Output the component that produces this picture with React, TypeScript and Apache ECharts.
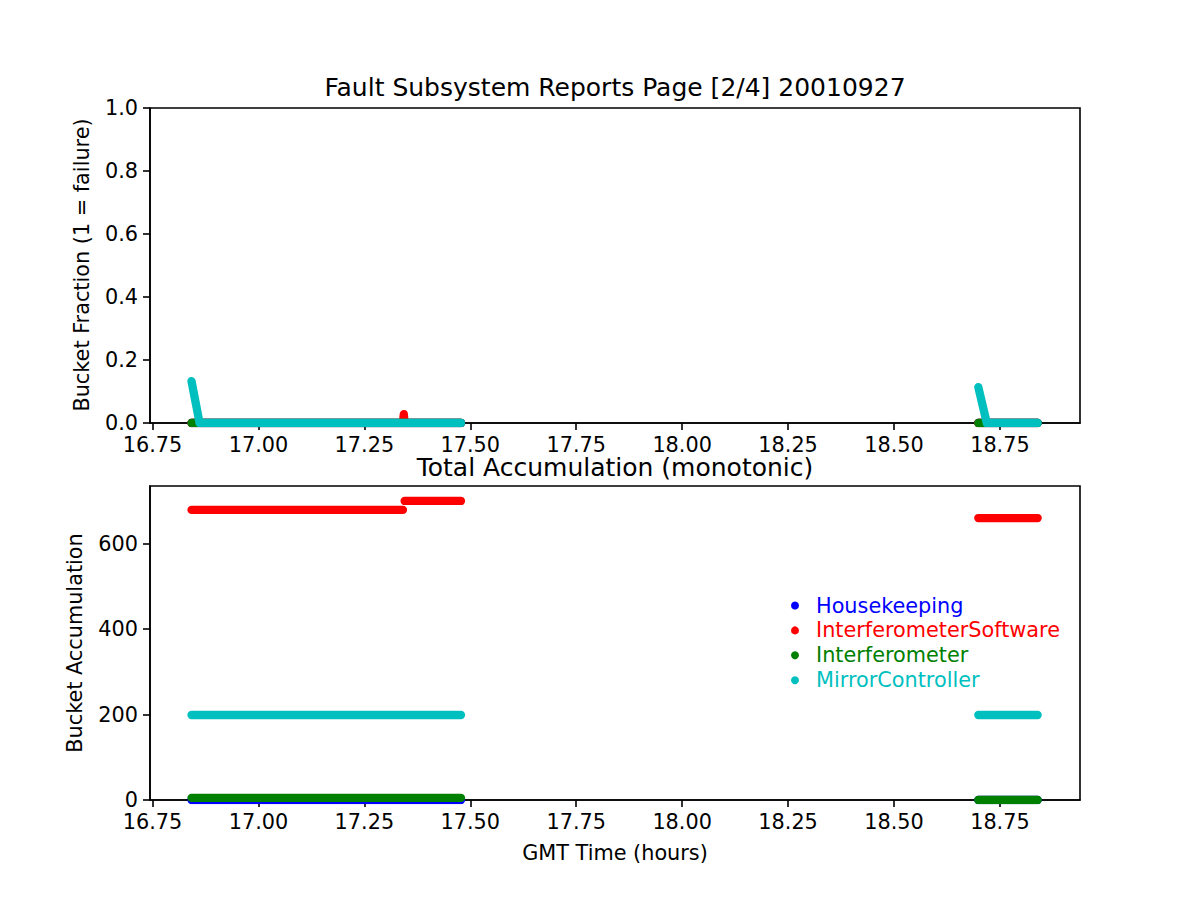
import React, { useEffect, useRef } from "react";
import * as echarts from "echarts";

// ---- data ----
const SERIES_NAMES = ["Housekeeping", "InterferometerSoftware", "Interferometer", "MirrorController"];
const SERIES_COLORS = ["#0000ff", "#ff0000", "#008000", "#00bfbf"];

const X_TICKS = [16.75, 17.0, 17.25, 17.5, 17.75, 18.0, 18.25, 18.5, 18.75];
const FRAC_TICKS = [0, 0.2, 0.4, 0.6, 0.8, 1.0];
const ACC_TICKS = [0, 200, 400, 600];

// Top panel: bucket fraction, each series given as runs of [hour, value]
const fracHousekeeping = [
  [[16.842, 0], [17.478, 0]],
  [[18.699, 0], [18.839, 0]],
];
const fracInterferometerSoftware = [
  [[16.842, 0], [17.341, 0], [17.343, 0.028], [17.345, 0], [17.478, 0]],
  [[18.699, 0], [18.839, 0]],
];
const fracInterferometer = [
  [[16.842, 0], [17.478, 0]],
  [[18.699, 0], [18.839, 0]],
];
const fracMirrorController = [
  [[16.842, 0.133], [16.861, 0], [17.478, 0]],
  [[18.699, 0.114], [18.719, 0], [18.839, 0]],
];

// Bottom panel: total accumulation
const accHousekeeping = [
  [[16.842, 0], [17.478, 0]],
  [[18.699, 0], [18.839, 0]],
];
const accInterferometerSoftware = [
  [[16.842, 679], [17.341, 679]],
  [[17.345, 700], [17.478, 700]],
  [[18.699, 660], [18.839, 660]],
];
const accInterferometer = [
  [[16.842, 5], [17.478, 5]],
  [[18.699, 0], [18.839, 0]],
];
const accMirrorController = [
  [[16.842, 199], [17.478, 199]],
  [[18.699, 199], [18.839, 199]],
];

const FRAC_DATA = [fracHousekeeping, fracInterferometerSoftware, fracInterferometer, fracMirrorController];
const ACC_DATA = [accHousekeeping, accInterferometerSoftware, accInterferometer, accMirrorController];

const X_MIN = 16.744;
const X_MAX = 18.939;
const FONT = "DejaVu Sans";
const FS = 20.8;

function xAxisCfg(gridIndex: number) {
  return {
    type: "value",
    gridIndex,
    min: X_MIN,
    max: X_MAX,
    axisLine: { show: true, onZero: false, lineStyle: { color: "#000", width: 1.6 } },
    axisTick: { show: true, length: 7, lineStyle: { color: "#000", width: 1.6 }, customValues: X_TICKS },
    axisLabel: {
      customValues: X_TICKS,
      formatter: (v: number) => v.toFixed(2),
      color: "#000",
      fontSize: FS,
      fontFamily: FONT,
      lineHeight: 18,
      margin: 13,
    },
    splitLine: { show: false },
  };
}

function yAxisCfg(gridIndex: number, max: number, ticks: number[], fmt: (v: number) => string) {
  return {
    type: "value",
    gridIndex,
    min: 0,
    max,
    axisLine: { show: true, onZero: false, lineStyle: { color: "#000", width: 1.6 } },
    axisTick: { show: true, length: 7, lineStyle: { color: "#000", width: 1.6 }, customValues: ticks },
    axisLabel: {
      customValues: ticks,
      formatter: fmt,
      color: "#000",
      fontSize: FS,
      fontFamily: FONT,
      margin: 12,
    },
    splitLine: { show: false },
  };
}

function buildSeries(data: number[][][][], axisIndex: number) {
  const out: any[] = [];
  data.forEach((segments, i) => {
    segments.forEach((seg) => {
      out.push({
        type: "line",
        name: SERIES_NAMES[i],
        xAxisIndex: axisIndex,
        yAxisIndex: axisIndex,
        data: seg,
        showSymbol: false,
        symbol: "circle",
        color: SERIES_COLORS[i],
        itemStyle: { color: SERIES_COLORS[i] },
        lineStyle: { width: 8.3, color: SERIES_COLORS[i], cap: "round", join: "round" },
        clip: true,
        silent: true,
        z: 2 + i,
      });
    });
  });
  return out;
}

export default function App() {
  const ref = useRef<HTMLDivElement>(null);
  useEffect(() => {
    if (!ref.current) return;
    const chart = echarts.init(ref.current, undefined, { renderer: "svg" });
    const option: any = {
      animation: false,
      backgroundColor: "#fff",
      textStyle: { fontFamily: FONT },
      grid: [
        { left: 150, top: 108, width: 930, height: 315, show: true, borderColor: "#000", borderWidth: 1.6, backgroundColor: "transparent" },
        { left: 150, top: 486, width: 930, height: 314, show: true, borderColor: "#000", borderWidth: 1.6, backgroundColor: "transparent" },
      ],
      xAxis: [xAxisCfg(0), xAxisCfg(1)],
      yAxis: [
        yAxisCfg(0, 1.0, FRAC_TICKS, (v: number) => v.toFixed(1)),
        yAxisCfg(1, 735, ACC_TICKS, (v: number) => String(Math.round(v))),
      ],
      legend: {
        orient: "vertical",
        left: 791,
        top: 595,
        padding: 0,
        icon: "circle",
        itemWidth: 8,
        itemHeight: 8,
        itemGap: 3.9,
        selectedMode: false,
        data: SERIES_NAMES.map((n, i) => ({ name: n, textStyle: { color: SERIES_COLORS[i] } })),
        textStyle: { fontSize: FS, fontFamily: FONT, lineHeight: 20, padding: [0, 0, 0, 12] },
      },
      graphic: [
        {
          type: "text",
          x: 615,
          y: 87,
          style: { text: "Fault Subsystem Reports Page [2/4] 20010927", fontSize: 25, fontFamily: FONT, fill: "#000", textAlign: "center", textVerticalAlign: "middle" },
        },
        {
          type: "text",
          x: 615,
          y: 467,
          style: { text: "Total Accumulation (monotonic)", fontSize: 25, lineHeight: 22, fontFamily: FONT, fill: "#000", textAlign: "center", textVerticalAlign: "middle" },
        },
        {
          type: "text",
          x: 82,
          y: 265,
          rotation: Math.PI / 2,
          style: { text: "Bucket Fraction (1 = failure)", fontSize: FS, fontFamily: FONT, fill: "#000", textAlign: "center", textVerticalAlign: "middle" },
        },
        {
          type: "text",
          x: 75,
          y: 643,
          rotation: Math.PI / 2,
          style: { text: "Bucket Accumulation", fontSize: FS, fontFamily: FONT, fill: "#000", textAlign: "center", textVerticalAlign: "middle" },
        },
        {
          type: "text",
          x: 615,
          y: 853,
          style: { text: "GMT Time (hours)", fontSize: FS, fontFamily: FONT, fill: "#000", textAlign: "center", textVerticalAlign: "middle" },
        },
      ],
      series: [...buildSeries(FRAC_DATA, 0), ...buildSeries(ACC_DATA, 1)],
    };
    chart.setOption(option);
    return () => chart.dispose();
  }, []);
  return (
    <div
      ref={ref}
      style={{ position: "absolute", left: 0, top: 0, width: 1200, height: 900, background: "#fff" }}
    />
  );
}
